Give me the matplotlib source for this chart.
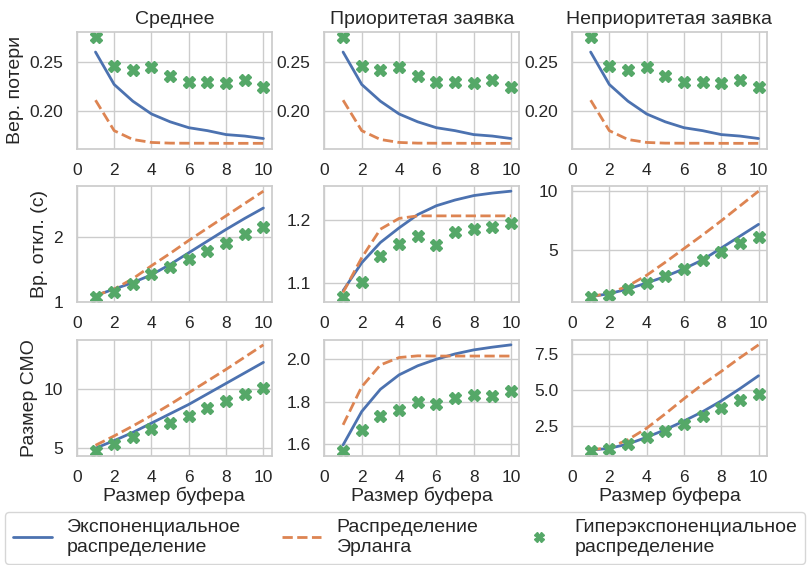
import numpy as np
import matplotlib
matplotlib.use('Agg')
import matplotlib.pyplot as plt
import seaborn as sns

sns.set_theme(style='whitegrid')
plt.rcParams['font.family'] = ['Liberation Sans', 'DejaVu Sans']

# data
buf = [1, 2, 3, 4, 5, 6, 7, 8, 9, 10]

titles = ['Среднее', 'Приоритетая заявка', 'Неприоритетая заявка']
ylabels = ['Вер. потери', 'Вр. откл. (с)', 'Размер СМО']
labels = ['Экспоненциальное\nраспределение', 'Распределение\nЭрланга',
          'Гиперэкспоненциальное\nраспределение']

# loss probability (same for all three columns)
loss_exp = [0.260, 0.227, 0.210, 0.197, 0.189, 0.183, 0.180, 0.176, 0.1745, 0.172]
loss_erl = [0.211, 0.180, 0.171, 0.168, 0.1673, 0.1672, 0.1672, 0.1671, 0.1671, 0.1671]
loss_hyp = [0.2748, 0.246, 0.2418, 0.2452, 0.2354, 0.2296, 0.230, 0.228, 0.2313, 0.2248]

# waiting time
wt_exp = [[1.10, 1.20, 1.30, 1.42, 1.58, 1.76, 1.94, 2.12, 2.29, 2.45],
          [1.088, 1.132, 1.164, 1.187, 1.208, 1.222, 1.231, 1.238, 1.242, 1.245],
          [1.10, 1.35, 1.75, 2.25, 2.80, 3.45, 4.20, 5.20, 6.20, 7.20]]
wt_erl = [[1.10, 1.20, 1.36, 1.56, 1.75, 1.95, 2.14, 2.33, 2.52, 2.71],
          [1.085, 1.14, 1.185, 1.202, 1.206, 1.206, 1.206, 1.206, 1.206, 1.206],
          [1.10, 1.40, 2.00, 2.90, 4.00, 5.15, 6.30, 7.50, 8.75, 10.0]]
wt_hyp = [[1.078, 1.156, 1.286, 1.43, 1.547, 1.66, 1.78, 1.91, 2.05, 2.156],
          [1.078, 1.102, 1.142, 1.162, 1.175, 1.16, 1.181, 1.185, 1.188, 1.195],
          [1.07, 1.27, 1.72, 2.28, 2.84, 3.46, 4.16, 4.86, 5.65, 6.12]]

# system size
ss_exp = [[4.95, 5.6, 6.3, 7.1, 7.9, 8.7, 9.6, 10.5, 11.4, 12.3],
          [1.595, 1.753, 1.858, 1.926, 1.969, 2.0, 2.025, 2.044, 2.057, 2.068],
          [0.83, 0.95, 1.25, 1.72, 2.25, 2.85, 3.5, 4.25, 5.1, 6.0]]
ss_erl = [[5.2, 6.0, 6.85, 7.75, 8.7, 9.7, 10.7, 11.7, 12.75, 13.8],
          [1.69, 1.87, 1.973, 2.008, 2.016, 2.015, 2.015, 2.015, 2.015, 2.015],
          [0.85, 1.0, 1.55, 2.35, 3.35, 4.4, 5.4, 6.3, 7.25, 8.15]]
ss_hyp = [[4.74, 5.31, 5.89, 6.57, 7.09, 7.71, 8.37, 9.0, 9.6, 10.09],
          [1.568, 1.666, 1.73, 1.76, 1.80, 1.79, 1.816, 1.83, 1.828, 1.852],
          [0.79, 0.90, 1.26, 1.74, 2.19, 2.62, 3.21, 3.74, 4.33, 4.76]]

rows = [([loss_exp] * 3, [loss_erl] * 3, [loss_hyp] * 3),
        (wt_exp, wt_erl, wt_hyp),
        (ss_exp, ss_erl, ss_hyp)]

pal = sns.color_palette('deep')

fig, axes = plt.subplots(3, 3, figsize=(8.09, 5.65), dpi=100)
fig.subplots_adjust(left=0.095, right=0.948, top=0.943, bottom=0.193,
                    wspace=0.27, hspace=0.32)

for i, (e, r, h) in enumerate(rows):
    for j in range(3):
        ax = axes[i, j]
        ax.plot(buf, e[j], color=pal[0], lw=2, label=labels[0])
        ax.plot(buf, r[j], color=pal[1], lw=2, ls='--', label=labels[1])
        ax.plot(buf, h[j], color=pal[2], ls='none', marker='X', ms=9,
                label=labels[2])
        ax.set_xlim(left=0)
        ax.set_xticks([0, 2, 4, 6, 8, 10])
        ax.tick_params(labelsize=12.5, pad=4)
        if i == 0:
            ax.set_title(titles[j], fontsize=14)
        if j == 0:
            ax.set_ylabel(ylabels[i], fontsize=14)
        if i == 2:
            ax.set_xlabel('Размер буфера', fontsize=14, labelpad=1)

handles, labs = axes[0, 0].get_legend_handles_labels()
fig.legend(handles, labs, loc='lower left', ncol=3, mode='expand',
           bbox_to_anchor=(0.006, 0.002, 0.989, 0.09), borderaxespad=0,
           fontsize=14, markerscale=0.75, frameon=True)

fig.savefig('out.png', dpi=100)
